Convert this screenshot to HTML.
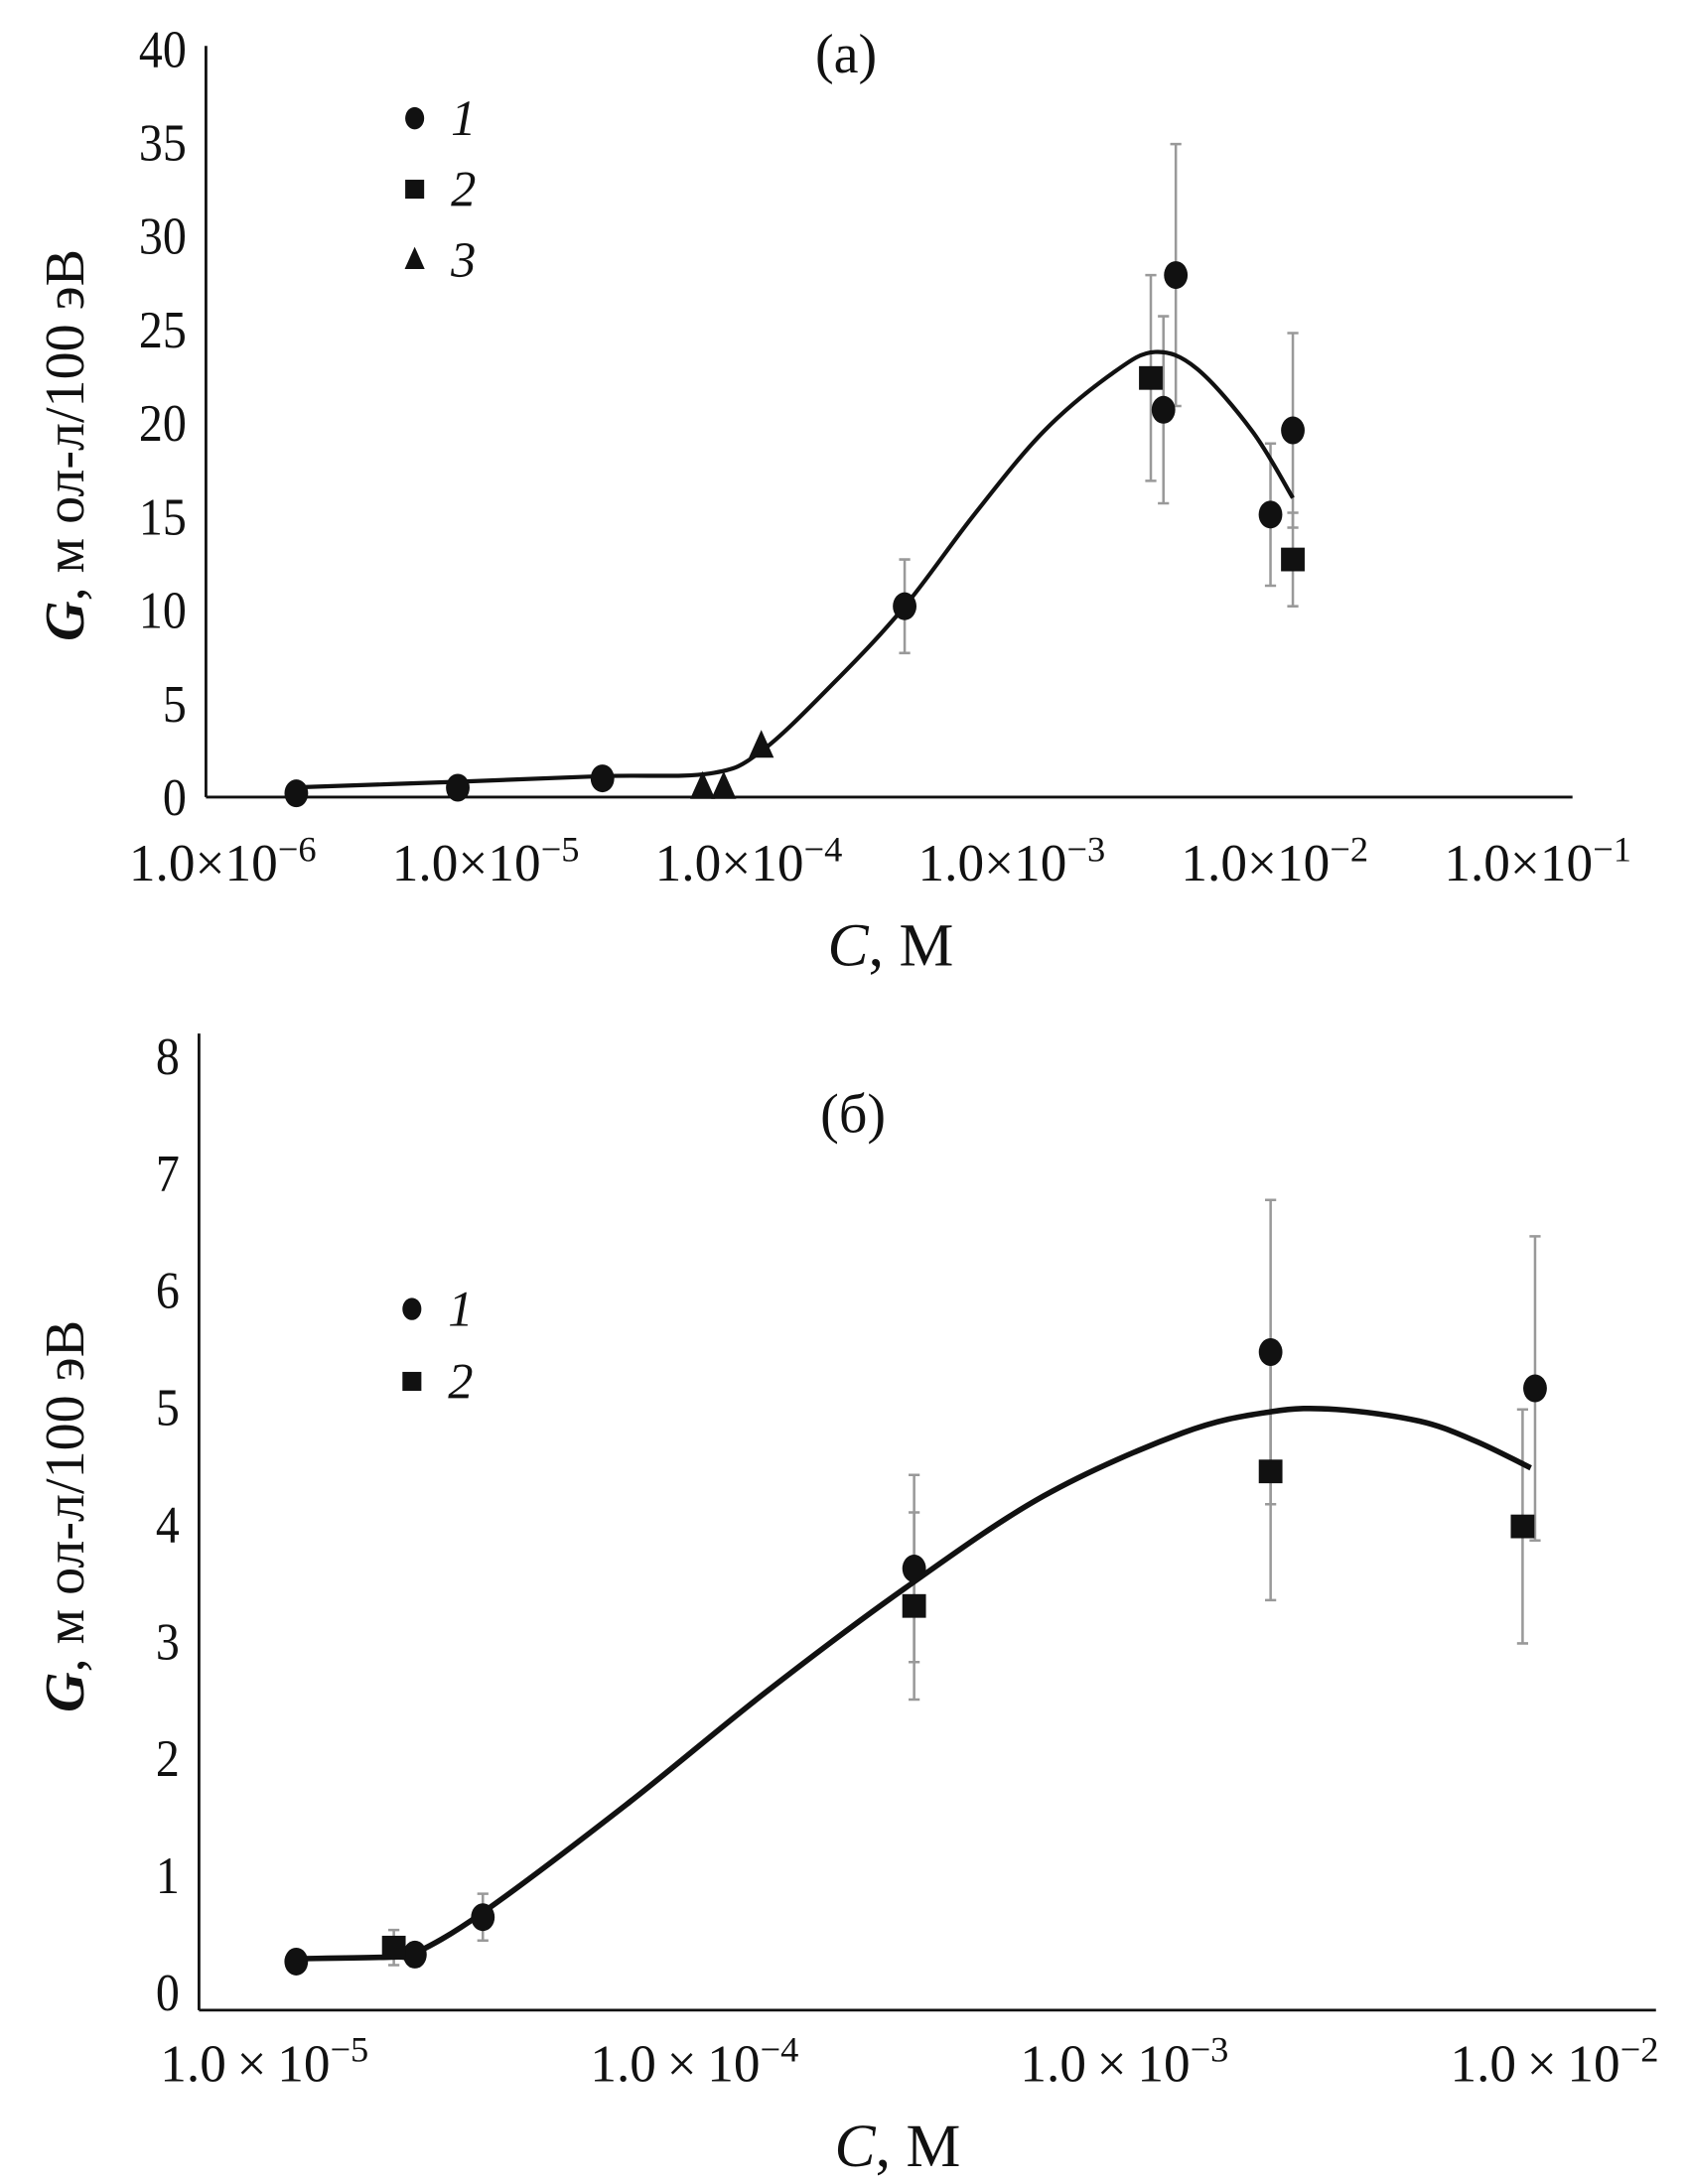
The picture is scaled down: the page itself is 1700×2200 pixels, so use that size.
<!DOCTYPE html>
<html><head><meta charset="utf-8"><style>
html,body{margin:0;padding:0;background:#fff}
svg{display:block}
text{font-family:"Liberation Serif","DejaVu Serif",serif;fill:#111}
</style></head><body>
<svg id="fig" width="1700" height="2200" viewBox="0 0 1213 1570" preserveAspectRatio="none" xmlns="http://www.w3.org/2000/svg">
<rect x="0" y="0" width="1213" height="1570" fill="#fff"/>
<g id="pa"></g>
<g id="pb"></g>
</svg>
<script>
// ---- Chart (a) data ----
const aCurveLogC = [-5.72,-5.106,-4.556,-4.148,-3.952,-3.672,-3.407,-3.143,-2.878,-2.614,-2.455,-2.296,-2.085,-1.931];
const aCurveG    = [0.52,0.82,1.12,1.26,2.45,6.17,10.19,15.09,19.55,22.68,23.79,22.9,19.55,15.99];
const aS1LogC = [-5.72,-5.106,-4.556,-3.407,-2.423,-2.376,-2.016,-1.931];
const aS1G    = [0.2,0.5,1.0,10.2,20.7,27.9,15.1,19.6];
const aS1Err  = [0,0,0,2.5,5.0,7.0,3.8,5.2];
const aS2LogC = [-2.471,-1.931];
const aS2G    = [22.4,12.7];
const aS2Err  = [5.5,2.5];
const aS3LogC = [-4.175,-4.095,-3.952];
const aS3G    = [0.5,0.5,2.7];
const aYTicks = [0,5,10,15,20,25,30,35,40];
const aXTicks = [-6,-5,-4,-3,-2,-1];
// ---- Chart (б) data ----
const bCurveLogC = [-4.926,-4.699,-4.650,-4.492,-4.159,-3.835,-3.511,-3.188,-2.864,-2.660,-2.508,-2.314,-2.184,-2.055];
const bCurveG    = [0.285,0.30,0.33,0.68,1.6,2.56,3.45,4.24,4.78,4.96,4.98,4.88,4.71,4.48];
const bS1LogC = [-4.926,-4.650,-4.492,-3.489,-2.660,-2.045];
const bS1G    = [0.26,0.32,0.64,3.62,5.47,5.16];
const bS1Err  = [0,0.1,0.2,0.8,1.3,1.3];
const bS2LogC = [-4.699,-3.489,-2.660,-2.074];
const bS2G    = [0.38,3.3,4.45,3.98];
const bS2Err  = [0.15,0.8,1.1,1.0];
const bYTicks = [0,1,2,3,4,5,6,7,8];
const bXTicks = [-5,-4,-3,-2];

const NS="http://www.w3.org/2000/svg";
function mk(parent,tag,attrs,txt){const e=document.createElementNS(NS,tag);for(const k in attrs)e.setAttribute(k,attrs[k]);if(txt!==undefined)e.textContent=txt;parent.appendChild(e);return e;}

function marker(g,type,x,y,s){
  let e;
  if(type==='circle'){e=mk(g,'ellipse',{cx:x,cy:y,rx:s*0.85,ry:s,fill:'#111'});}
  else if(type==='square'){e=mk(g,'rect',{x:x-s*0.85,y:y-s*0.85,width:1.7*s,height:1.7*s,fill:'#111'});}
  else {e=mk(g,'polygon',{points:`${x},${y-s*1.2} ${x-s*0.9},${y+s*0.8} ${x+s*0.9},${y+s*0.8}`,fill:'#111'});}
  return e;
}

function drawChart(cfg){
  const g=document.getElementById(cfg.id);
  const X=cfg.X, Y=cfg.Y;
  const ya=mk(g,'line',{x1:cfg.ax,y1:cfg.top,x2:cfg.ax,y2:cfg.axisY,stroke:'#111','stroke-width':2});
  
  
  const xa=mk(g,'line',{x1:cfg.ax,y1:cfg.axisY,x2:cfg.right,y2:cfg.axisY,stroke:'#111','stroke-width':2});
  
  
  cfg.yTicks.forEach(v=>{
    const t=mk(g,'text',{x:cfg.ax-14,y:Y(v)+13,'text-anchor':'end','font-size':38,transform:`translate(${cfg.ax-14},0) scale(0.9,1) translate(${-(cfg.ax-14)},0)`},String(v));
    
    
  });
  cfg.xTicks.forEach(v=>{
    const t=mk(g,'text',{x:X(v),y:cfg.xLabelY,'text-anchor':'middle','font-size':38});
    
    
    mk(t,'tspan',{},cfg.sp?'1.0\u2009×\u200910':'1.0×10');
    mk(t,'tspan',{dy:-14,'font-size':26},'\u2212'+Math.abs(v));
  });
  function errs(lc,gv,er){
    lc.forEach((l,i)=>{ if(!er[i])return;
      const x=X(l),y1=Y(gv[i]+er[i]),y2=Y(gv[i]-er[i]);
      const e=mk(g,'path',{d:`M${x},${y1}V${y2}M${x-4},${y1}H${x+4}M${x-4},${y2}H${x+4}`,stroke:'#999','stroke-width':1.8,fill:'none'});
      
      
    });
  }
  cfg.series.forEach(s=>errs(s.lc,s.g,s.err||[]));
  const pts=cfg.cLC.map((l,i)=>[X(l),Y(cfg.cG[i])]);
  let d=`M${pts[0][0]},${pts[0][1]}`;
  for(let i=0;i<pts.length-1;i++){
    const p0=pts[Math.max(0,i-1)],p1=pts[i],p2=pts[i+1],p3=pts[Math.min(pts.length-1,i+2)];
    const c1=[p1[0]+(p2[0]-p0[0])/6,p1[1]+(p2[1]-p0[1])/6],c2=[p2[0]-(p3[0]-p1[0])/6,p2[1]-(p3[1]-p1[1])/6];
    d+=`C${c1[0]},${c1[1]} ${c2[0]},${c2[1]} ${p2[0]},${p2[1]}`;
  }
  const c=mk(g,'path',{d:d,stroke:'#111','stroke-width':cfg.lw,fill:'none'});
  
  
  cfg.series.forEach(s=>{
    s.lc.forEach((l,i)=>{
      const m=marker(g,s.type,X(l),Y(s.g[i]),10);
      
      
    });
  });
  cfg.series.forEach((s,i)=>{
    const ly=cfg.legY+i*cfg.legDy;
    const m=marker(g,s.type,cfg.legX,ly,s.type==='triangle'?8:8);
    
    
    const t=mk(g,'text',{x:cfg.legX+26,y:ly+12,'font-size':36,'font-style':'italic'},s.name);
    
    
  });
  const tt=mk(g,'text',{x:cfg.titleX,y:cfg.titleY,'text-anchor':'middle','font-size':40},cfg.title);
  
  
  const xt=mk(g,'text',{x:cfg.xtX,y:cfg.xtY,'text-anchor':'middle','font-size':44});
  
  
  mk(xt,'tspan',{'font-style':'italic'},'C');
  mk(xt,'tspan',{},', М');
  const yt=mk(g,'text',{x:0,y:0,'text-anchor':'middle','font-size':40,transform:`translate(${cfg.ytX},${cfg.ytY}) rotate(-90)`});
  
  
  mk(yt,'tspan',{'font-style':'italic','font-weight':'bold'},'G');
  mk(yt,'tspan',{},', м ол-л/100 эВ');
}

drawChart({id:'pa',X:l=>160+(l+6)*189,Y:v=>573-v*13.45,ax:148,top:33,axisY:573,right:1130,
  yTicks:aYTicks,xTicks:aXTicks,xLabelY:633,sp:false,cLC:aCurveLogC,cG:aCurveG,lw:3,
  series:[{name:'1',type:'circle',lc:aS1LogC,g:aS1G,err:aS1Err},{name:'2',type:'square',lc:aS2LogC,g:aS2G,err:aS2Err},{name:'3',type:'triangle',lc:aS3LogC,g:aS3G}],
  legX:298,legY:85,legDy:51,title:'(a)',titleX:608,titleY:52,xtX:640,xtY:694,ytX:60,ytY:320});
drawChart({id:'pb',X:l=>190+(l+5)*309,Y:v=>1432-v*84.1,ax:143,top:743,axisY:1445,right:1190,
  yTicks:bYTicks,xTicks:bXTicks,xLabelY:1496,sp:true,cLC:bCurveLogC,cG:bCurveG,lw:4,
  series:[{name:'1',type:'circle',lc:bS1LogC,g:bS1G,err:bS1Err},{name:'2',type:'square',lc:bS2LogC,g:bS2G,err:bS2Err}],
  legX:296,legY:941,legDy:52,title:'(б)',titleX:613,titleY:814,xtX:645,xtY:1557,ytX:60,ytY:1090});
</script>
</body></html>
